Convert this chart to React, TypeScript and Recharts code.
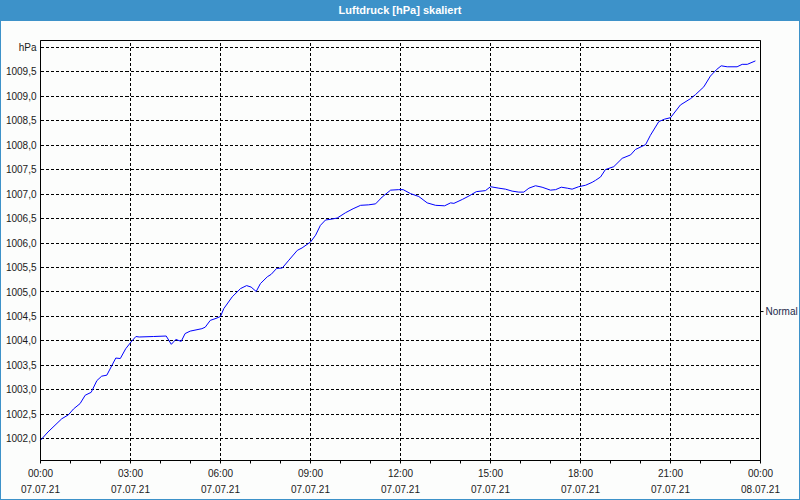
import React from 'react';
import {
  LineChart,
  Line,
  XAxis,
  YAxis,
  CartesianGrid,
  ReferenceLine,
  ReferenceArea,
} from 'recharts';

// Stunden seit 07.07.21 00:00
const hours = [
  0, 0.25, 0.71, 0.93, 1.1, 1.32, 1.49, 1.69, 1.88, 2.04, 2.21, 2.51, 2.66, 2.84,
  3.02, 3.18, 3.29, 3.77, 4.19, 4.36, 4.51, 4.69, 4.82, 4.99, 5.38, 5.49, 5.66,
  5.85, 6.0, 6.11, 6.39, 6.67, 6.87, 7.02, 7.19, 7.33, 7.56, 7.69, 7.87, 8.06,
  8.28, 8.56, 8.72, 9.0, 9.17, 9.33, 9.5, 9.72, 9.89, 10.17, 10.42, 10.67, 10.94,
  11.17, 11.39, 11.67, 11.94, 12.09, 12.33, 12.61, 12.89, 13.17, 13.47, 13.67,
  13.78, 14.06, 14.28, 14.53, 14.83, 15.0, 15.28, 15.5, 15.72, 15.94, 16.11,
  16.28, 16.5, 16.72, 17.0, 17.17, 17.36, 17.56, 17.72, 17.94, 18.17, 18.39,
  18.5, 18.67, 18.83, 19.11, 19.39, 19.67, 19.83, 20.17, 20.33, 20.61, 20.8, 21.0,
  21.33, 21.67, 21.83, 22.11, 22.33, 22.53, 22.69, 22.89, 23.22, 23.39, 23.56,
  23.83,
];

const pressure = [
  1001.97, 1002.14, 1002.41, 1002.49, 1002.61, 1002.72, 1002.89, 1002.95, 1003.19,
  1003.28, 1003.3, 1003.65, 1003.64, 1003.84, 1003.98, 1004.09, 1004.08, 1004.09,
  1004.1, 1003.93, 1004.03, 1003.99, 1004.15, 1004.2, 1004.25, 1004.28, 1004.42,
  1004.46, 1004.5, 1004.66, 1004.9, 1005.07, 1005.13, 1005.1, 1005.01, 1005.17,
  1005.31, 1005.36, 1005.48, 1005.49, 1005.65, 1005.85, 1005.9, 1006.02, 1006.16,
  1006.36, 1006.47, 1006.49, 1006.51, 1006.62, 1006.7, 1006.77, 1006.78, 1006.8,
  1006.94, 1007.08, 1007.09, 1007.09, 1007.01, 1006.95, 1006.82, 1006.77, 1006.76,
  1006.82, 1006.81, 1006.89, 1006.96, 1007.05, 1007.07, 1007.15, 1007.12, 1007.1,
  1007.06, 1007.04, 1007.04, 1007.12, 1007.17, 1007.14, 1007.08, 1007.09, 1007.14,
  1007.12, 1007.1, 1007.15, 1007.18, 1007.24, 1007.28, 1007.35, 1007.5, 1007.56,
  1007.73, 1007.8, 1007.91, 1008.01, 1008.2, 1008.48, 1008.53, 1008.56, 1008.82,
  1008.95, 1009.03, 1009.19, 1009.41, 1009.54, 1009.62, 1009.6, 1009.6, 1009.65,
  1009.65, 1009.72,
];

const yTicks = [
  1002, 1002.5, 1003, 1003.5, 1004, 1004.5, 1005, 1005.5, 1006, 1006.5, 1007,
  1007.5, 1008, 1008.5, 1009, 1009.5, 1010,
];
const yDomain = [1001.557, 1010.137];
const xTicks = Array.from({ length: 25 }, (_, i) => i);
const majorHours = [3, 6, 9, 12, 15, 18, 21];
const timeLabels = ['00:00', '03:00', '06:00', '09:00', '12:00', '15:00', '18:00', '21:00', '00:00'];
const dateLabels = ['07.07.21', '07.07.21', '07.07.21', '07.07.21', '07.07.21', '07.07.21', '07.07.21', '07.07.21', '08.07.21'];
const normalLevel = 1004.6;

const data = hours.map((h, i) => ({ h, p: pressure[i] }));

const FONT = '"Liberation Sans", Arial, sans-serif';

const TimeTick = (props: any) => {
  const { x, y, payload } = props;
  const v = payload.value as number;
  if (v % 3 !== 0) return null;
  const idx = v / 3;
  return (
    <g>
      <text x={x} y={y + 11} textAnchor="middle" fontSize={10} fontFamily={FONT} fill="#1a1a1a">
        {timeLabels[idx]}
      </text>
      <text x={x} y={y + 27} textAnchor="middle" fontSize={10} fontFamily={FONT} fill="#1a1a1a">
        {dateLabels[idx]}
      </text>
    </g>
  );
};

const fmtY = (v: number) => (v === 1010 ? 'hPa' : v.toFixed(1).replace('.', ','));

export default function App() {
  return (
    <div
      style={{
        position: 'absolute',
        left: 0,
        top: 0,
        width: 800,
        height: 500,
        background: '#3d92c9',
        overflow: 'hidden',
      }}
    >
      <div
        style={{
          height: 21,
          lineHeight: '20px',
          textAlign: 'center',
          color: '#fff',
          fontWeight: 'bold',
          fontSize: 11,
          fontFamily: FONT,
        }}
      >
        Luftdruck [hPa] skaliert
      </div>
      <div
        style={{
          position: 'absolute',
          left: 1,
          top: 21,
          width: 798,
          height: 478,
          background: '#fcfdfc',
        }}
      />
      <div style={{ position: 'absolute', left: 1, top: 21 }}>
        <LineChart
          width={799}
          height={479}
          data={data}
          margin={{ top: 19.5, right: 0.5, left: 0.5, bottom: 0.5 }}
        >
          <CartesianGrid
            vertical={false}
            stroke="#000"
            strokeDasharray="3 2"
            shapeRendering="crispEdges"
          />
          {majorHours.map((h) => (
            <ReferenceLine
              key={h}
              x={h}
              stroke="#000"
              strokeDasharray="3 2"
              shapeRendering="crispEdges"
            />
          ))}
          <XAxis
            dataKey="h"
            type="number"
            domain={[0, 24]}
            ticks={xTicks}
            interval={0}
            height={39}
            tickSize={3}
            tickMargin={2}
            stroke="#000"
            tick={<TimeTick />}
          />
          <YAxis
            type="number"
            domain={yDomain}
            ticks={yTicks}
            interval={0}
            width={39}
            tickLine={false}
            tickSize={2}
            tickMargin={2}
            stroke="#000"
            tickFormatter={fmtY}
            tick={{ fontSize: 10, fontFamily: FONT, fill: '#1a1a1a' }}
          />
          <YAxis
            yAxisId="r"
            orientation="right"
            type="number"
            domain={yDomain}
            allowDataOverflow
            ticks={[normalLevel]}
            interval={0}
            width={39}
            tickSize={3}
            tickMargin={2}
            stroke="#000"
            tickFormatter={() => 'Normal'}
            tick={{ fontSize: 10, fontFamily: FONT, fill: '#1a2a4a' }}
          />
          <ReferenceArea
            x1={0}
            x2={24}
            y1={yDomain[0]}
            y2={yDomain[1]}
            fill="none"
            stroke="#000"
            strokeOpacity={1}
            fillOpacity={0}
          />
          <Line
            yAxisId="r"
            type="linear"
            dataKey="p"
            stroke="none"
            dot={false}
            activeDot={false}
            isAnimationActive={false}
          />
          <Line
            type="linear"
            dataKey="p"
            stroke="#0000ff"
            strokeWidth={1}
            dot={false}
            isAnimationActive={false}
          />
        </LineChart>
      </div>
    </div>
  );
}
